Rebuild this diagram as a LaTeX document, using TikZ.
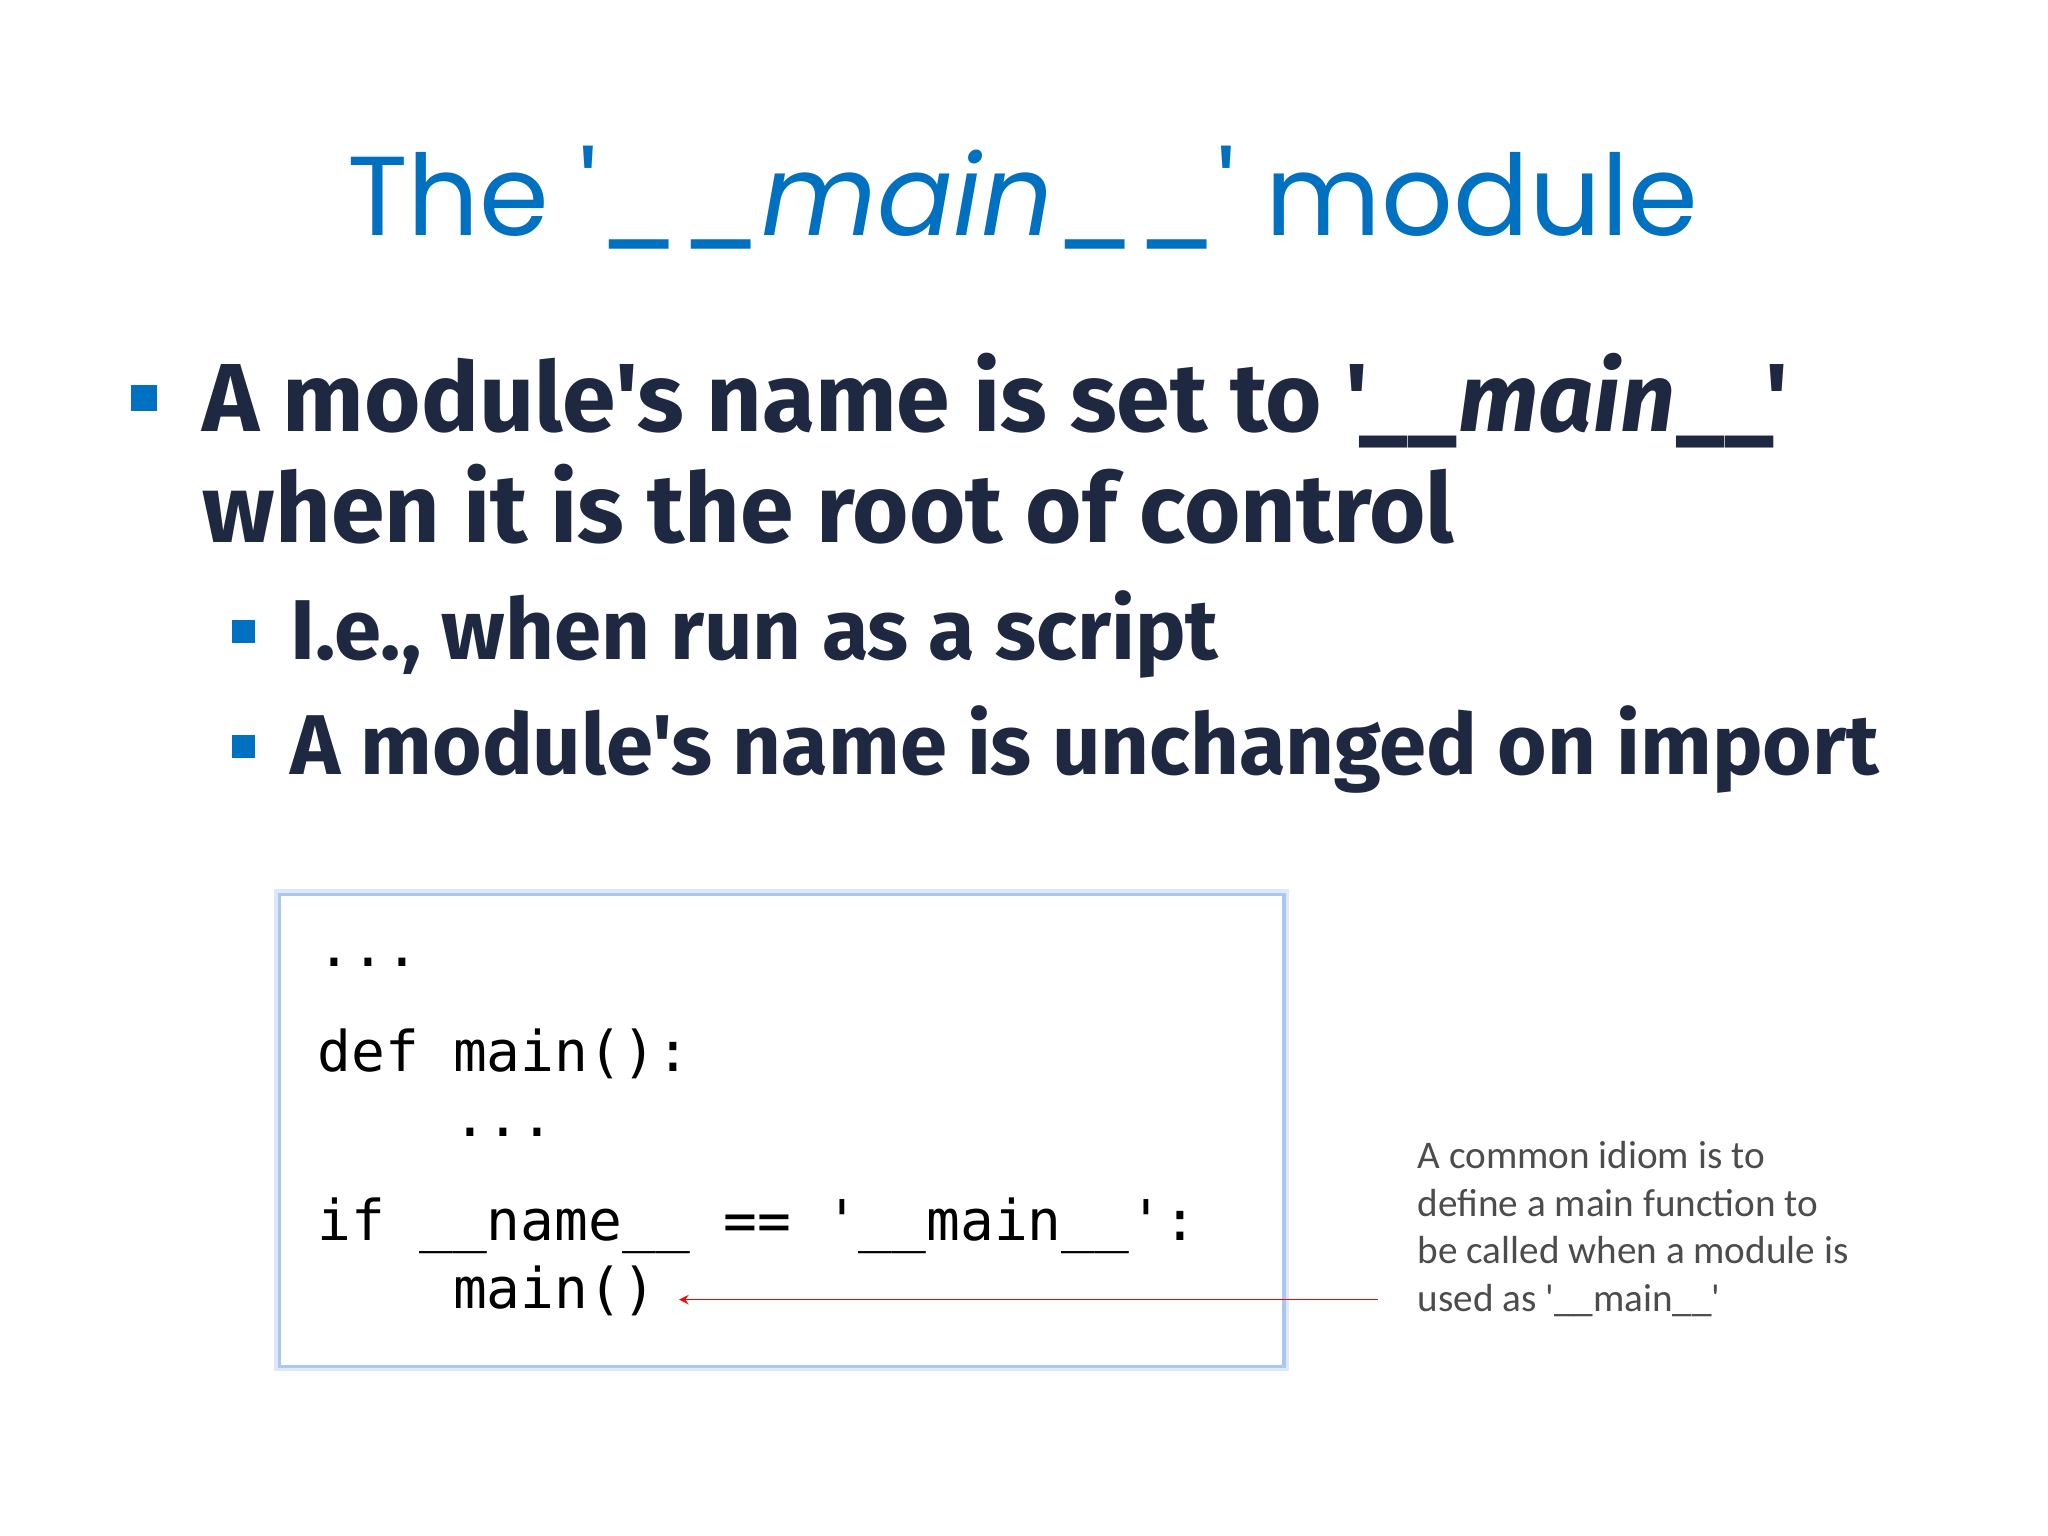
\documentclass[tikz,border=0pt]{standalone}
\usepackage{fontspec}
\newfontfamily\bfont{Fira Sans}
\newfontfamily\titlefont{Poppins}
\newfontfamily\codefont{DejaVu Sans Mono}
\newfontfamily\notefont{Carlito}
\definecolor{tblue}{RGB}{0,112,192}
\definecolor{navy}{RGB}{30,40,64}
\definecolor{boxb}{RGB}{170,198,242}
\begin{document}
\begin{tikzpicture}[x=0.5pt,y=-0.5pt,
  bul/.style={anchor=base west,inner sep=0,text=navy,font=\bfont\fontsize{37}{44}\selectfont\bfseries},
  sbul/.style={anchor=base west,inner sep=0,text=navy,font=\bfont\fontsize{32.5}{38}\selectfont\bfseries},
  code/.style={anchor=base west,inner sep=0,font=\codefont\fontsize{21.5}{25}\selectfont},
  note/.style={anchor=base west,inner sep=0,text=black!70,font=\notefont\fontsize{15}{18}\selectfont},
  sq/.style={fill=tblue}]
\useasboundingbox[fill=white] (0,0) rectangle (1568,1176);
\node[anchor=base,inner sep=0,text=tblue,font=\titlefont\fontsize{43}{50}\selectfont] (title) at (783,180) {The '\_\_\textit{main}\_\_' module};
\fill[sq] (100,295) rectangle (120,315);
\node[bul] (b1) at (155,330) {A module's name is set to '\_\_\textit{main}\_\_'};
\node[bul] (b2) at (155,415) {when it is the root of control};
\fill[sq] (178,475) rectangle (195,492);
\node[sbul] (s1) at (222,505) {I.e., when run as a script};
\fill[sq] (178,563) rectangle (195,580);
\node[sbul] (s2) at (222,593) {A module's name is unchanged on import};
\draw[boxb!40,line width=4pt] (214,685) rectangle (983,1046);
\draw[boxb,line width=1.2pt,fill=white] (214,685) rectangle (983,1046);
\node[code] (c1) at (243,740) {...};
\node[code] (c2) at (243,820) {def main():};
\node[code] (c3) at (243,870) {\ \ \ \ ...};
\node[code] (c4) at (243,950) {if \_\_name\_\_ == '\_\_main\_\_':};
\node[code] (c5) at (243,1002) {\ \ \ \ main()};
\node[note] (n1) at (1085,895) {A common idiom is to};
\node[note] (n2) at (1085,931) {define a main function to};
\node[note] (n3) at (1085,967) {be called when a module is};
\node[note] (n4) at (1085,1004) {used as '\_\_main\_\_'};
\coordinate (as) at (1055,995);
\coordinate (ae) at (520,995);
\draw[red,-stealth,line width=0.6pt] (as) -- (ae);
\end{tikzpicture}
\end{document}
